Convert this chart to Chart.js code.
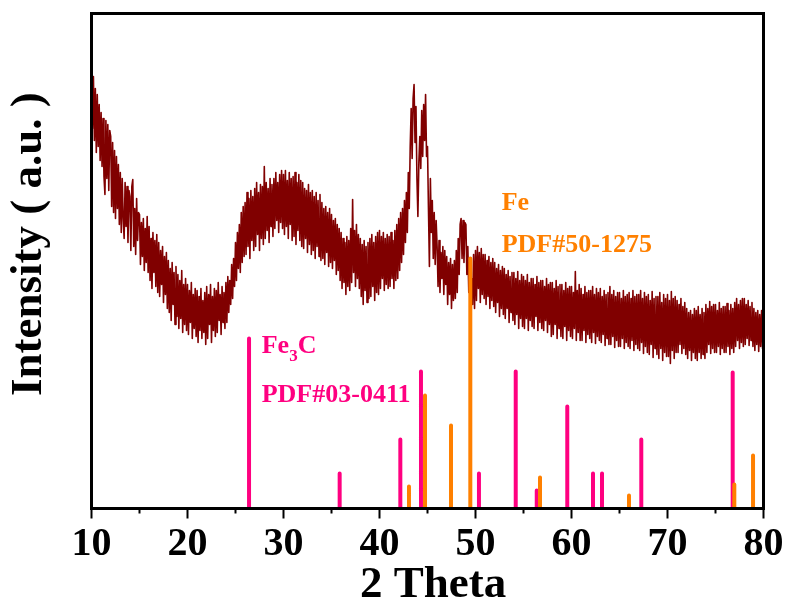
<!DOCTYPE html>
<html>
<head>
<meta charset="utf-8">
<script src="https://cdn.jsdelivr.net/npm/chart.js@4/dist/chart.umd.min.js"></script>
<style>
  html, body { margin: 0; padding: 0; background: #fff; }
  #wrap { width: 792px; height: 610px; }
</style>
</head>
<body>
<div id="wrap"><canvas id="xrd" width="792" height="610"></canvas></div>
<script>

// measured pattern, 2 theta from 10 to 80 in 0.1 degree steps (one row per degree)
const thetaStart = 10;
const thetaStep = 0.1;
const counts = [
  445,380,432,368,420,356,414,362,404,348,
  396,342,390,332,314,388,330,384,318,378,
  372,302,366,296,358,290,352,300,344,284,
  336,276,330,290,270,326,282,322,266,318,
  312,258,322,329,262,300,254,310,268,296,
  294,244,286,252,290,238,280,246,292,236,
  282,228,270,220,276,236,268,222,274,216,
  266,212,258,224,262,206,252,214,256,200,
  248,196,240,188,246,204,236,184,242,192,
  234,180,228,190,238,176,224,184,230,178,
  224,174,218,186,226,170,214,180,220,172,
  218,166,212,178,220,170,208,176,216,164,
  222,170,214,184,224,166,212,178,220,172,
  218,176,226,188,214,174,222,186,216,180,
  226,186,232,196,228,204,244,210,250,222,
  266,228,276,240,284,236,296,246,302,252,
  306,254,316,262,310,250,318,268,312,258,
  320,262,326,274,316,258,324,270,322,264,
  342,270,326,278,320,266,330,282,324,272,
  330,280,336,288,326,276,334,286,338,280,
  334,274,338,282,328,270,336,284,330,268,
  332,272,336,264,326,278,334,268,328,262,
  326,260,320,270,318,256,324,264,316,254,
  318,258,312,250,316,262,308,252,314,248,
  306,250,300,244,302,256,296,242,300,246,
  294,240,288,248,290,234,284,238,280,228,
  276,220,270,226,266,214,272,222,268,218,
  280,226,309,236,278,222,284,230,274,220,
  270,212,264,204,268,218,262,206,266,210,
  270,212,274,222,266,208,272,216,276,214,
  278,220,272,230,276,218,270,224,274,220,
  272,222,276,230,268,220,278,228,284,230,
  290,238,296,246,300,254,308,266,316,276,
  336,300,362,400,350,410,424,366,402,330,
  292,346,372,340,398,352,404,368,414,352,
  362,300,242,330,276,308,250,296,244,288,
  262,222,268,216,256,230,262,214,258,224,
  252,204,246,214,250,200,244,208,248,210,
  258,216,270,234,284,290,250,288,246,286,
  284,234,262,216,246,190,230,204,254,200,
  258,208,262,220,256,206,260,214,254,210,
  254,204,248,212,252,200,246,208,250,202,
  246,196,240,206,244,192,238,200,242,194,
  240,190,234,200,238,186,232,196,236,188,
  236,184,230,194,237,180,228,190,234,182,
  232,180,228,190,234,178,226,188,230,182,
  230,180,224,192,232,178,226,186,228,180,
  228,178,222,188,230,176,224,184,226,172,
  226,174,220,184,228,170,222,180,224,172,
  224,170,218,182,226,168,220,178,222,172,
  222,170,216,180,237,168,218,176,224,168,
  220,168,214,178,222,166,216,174,218,170,
  218,166,222,176,214,165,220,172,216,168,
  220,166,212,174,218,163,214,170,216,164,
  222,164,214,172,218,161,212,168,216,162,
  216,162,210,170,218,160,212,166,214,162,
  216,160,210,168,218,158,212,164,214,160,
  214,158,218,166,210,155,216,162,212,156,
  214,154,208,164,217,151,210,160,212,154,
  212,150,216,160,206,148,214,156,210,152,
  214,152,208,145,217,158,210,150,212,156,
  208,156,204,164,210,155,202,160,206,154,
  200,150,196,158,198,148,194,156,200,150,
  198,148,202,156,194,150,200,154,196,150,
  204,156,200,164,207,155,202,160,204,156,
  204,156,198,162,206,154,200,160,202,156,
  202,156,205,162,198,154,204,160,200,156,
  206,162,210,168,204,160,208,166,210,162,
  210,164,204,170,208,163,202,168,206,162,
  200,158,196,164,198,157,194,162,198,160,
  172
];

// Fe3C reference lines (PDF#03-0411)
const fe3cTheta = [26.41, 35.85, 42.17, 44.32, 50.36, 54.19, 56.38, 59.56, 62.24, 63.18, 67.27, 76.79];
const fe3cInt   = [170, 35, 69, 137, 35, 137, 18, 102, 35, 35, 69, 136];

// Fe reference lines (PDF#50-1275)
const feTheta = [43.07, 44.74, 47.45, 49.46, 56.72, 65.99, 76.96, 78.91];
const feInt   = [22, 113, 83, 250, 31, 13, 24, 53];

const xTicks = [10, 20, 30, 40, 50, 60, 70, 80];
const minorTicks = [15, 25, 35, 45, 55, 65, 75];

const SERIF = "'Liberation Serif', 'Times New Roman', serif";

// build {x,y} points for the pattern
function patternPoints(){
  return counts.map(function(c, i){
    return {x: +(thetaStart + i * thetaStep).toFixed(2), y: c};
  });
}

// vertical sticks, separated by gaps
function stickPoints(thetas, ints){
  var pts = [];
  thetas.forEach(function(t, i){
    pts.push({x: t, y: 0});
    pts.push({x: t, y: ints[i]});
    pts.push({x: t, y: null});
  });
  return pts;
}

// frame round the plot area plus the short minor ticks
const framePlugin = {
  id: 'frame',
  afterDraw: function(chart){
    var ctx = chart.ctx, a = chart.chartArea, xs = chart.scales.x;
    ctx.save();
    ctx.strokeStyle = '#000';
    ctx.lineWidth = 2;
    minorTicks.forEach(function(t){
      var px = xs.getPixelForValue(t);
      ctx.beginPath();
      ctx.moveTo(px, a.bottom);
      ctx.lineTo(px, a.bottom + 5);
      ctx.stroke();
    });
    ctx.lineWidth = 3;
    ctx.strokeRect(a.left, a.top, a.right - a.left, a.bottom - a.top);
    ctx.restore();
  }
};

// phase labels placed in data coordinates
const labelPlugin = {
  id: 'phaseLabels',
  afterDatasetsDraw: function(chart){
    var ctx = chart.ctx, xs = chart.scales.x, ys = chart.scales.y;
    ctx.save();
    ctx.textBaseline = 'alphabetic';
    ctx.textAlign = 'left';
    var big = 'bold 26px ' + SERIF, small = 'bold 17px ' + SERIF;

    // Fe
    ctx.fillStyle = '#FF8000';
    ctx.font = big;
    ctx.fillText('Fe', xs.getPixelForValue(52.73), ys.getPixelForValue(298.5));
    ctx.fillText('PDF#50-1275', xs.getPixelForValue(52.73), ys.getPixelForValue(256.8));

    // Fe3C with subscript
    ctx.fillStyle = '#FF0080';
    var x0 = xs.getPixelForValue(27.73), y0 = ys.getPixelForValue(155.2);
    ctx.fillText('Fe', x0, y0);
    var w = ctx.measureText('Fe').width;
    ctx.font = small;
    ctx.fillText('3', x0 + w, y0 + 8);
    var w3 = ctx.measureText('3').width;
    ctx.font = big;
    ctx.fillText('C', x0 + w + w3, y0);
    ctx.fillText('PDF#03-0411', x0, ys.getPixelForValue(106.8));
    ctx.restore();
  }
};

new Chart(document.getElementById('xrd'), {
  type: 'line',
  data: {
    datasets: [
      {
        label: 'Fe',
        data: stickPoints(feTheta, feInt),
        borderColor: '#FF8000',
        borderWidth: 4,
        borderCapStyle: 'round',
        pointRadius: 0,
        spanGaps: false,
        order: 0
      },
      {
        label: 'Fe3C',
        data: stickPoints(fe3cTheta, fe3cInt),
        borderColor: '#FF0080',
        borderWidth: 4,
        borderCapStyle: 'round',
        pointRadius: 0,
        spanGaps: false,
        order: 1
      },
      {
        label: 'sample',
        data: patternPoints(),
        borderColor: '#800000',
        borderWidth: 1.6,
        borderJoinStyle: 'round',
        pointRadius: 0,
        tension: 0,
        order: 2
      }
    ]
  },
  options: {
    responsive: false,
    animation: false,
    devicePixelRatio: 1,
    layout: { padding: { left: 0, right: 28.5, top: 13.5, bottom: 0 } },
    plugins: { legend: { display: false }, tooltip: { enabled: false } },
    scales: {
      x: {
        type: 'linear',
        min: 10,
        max: 80,
        afterBuildTicks: function(scale){
          scale.ticks = xTicks.map(function(v){ return {value: v}; });
        },
        ticks: {
          padding: 2,
          color: '#000',
          font: { family: SERIF, size: 40, weight: 'bold' }
        },
        grid: {
          drawOnChartArea: false,
          drawTicks: true,
          tickLength: 10,
          tickWidth: 2,
          tickColor: '#000'
        },
        border: { display: false },
        title: {
          display: true,
          text: ' 2 Theta',
          color: '#000',
          font: { family: SERIF, size: 45, weight: 'bold', lineHeight: 1 },
          padding: { top: 0, bottom: 2.5 }
        },
        afterFit: function(scale){
          scale.height = 101.5;
          scale.paddingLeft = 0; scale.paddingRight = 0;
        }
      },
      y: {
        min: 0,
        max: 495,
        ticks: { display: false },
        grid: { display: false },
        border: { display: false },
        title: {
          display: true,
          text: '   Intensity ( a.u. )',
          color: '#000',
          font: { family: SERIF, size: 45, weight: 'bold', lineHeight: 1 },
          padding: { top: 6.5, bottom: 0 }
        },
        afterFit: function(scale){
          scale.width = 91.5;
          scale.paddingTop = 0; scale.paddingBottom = 0;
        }
      }
    }
  },
  plugins: [framePlugin, labelPlugin]
});
</script>
</body>
</html>
